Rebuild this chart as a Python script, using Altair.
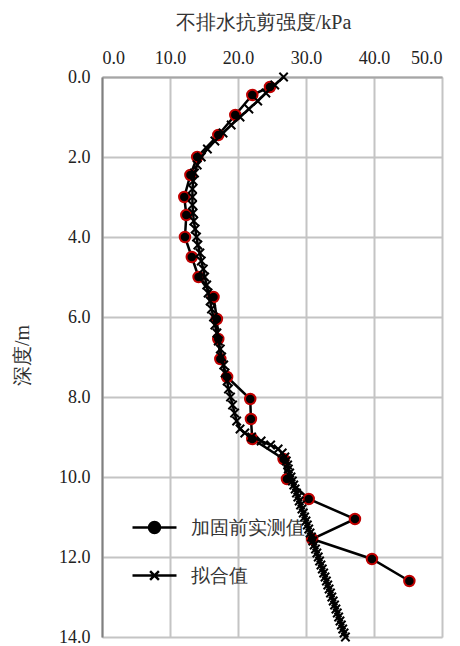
import altair as alt
import pandas as pd

# ---- data ----
meas_name = "加固前实测值"
fit_name = "拟合值"

depth_meas = [0.25, 0.45, 0.95, 1.45, 2.0, 2.45, 3.0, 3.45, 4.0, 4.5, 5.0, 5.5, 6.05,
              6.55, 7.05, 7.5, 8.05, 8.55, 9.05, 9.55, 10.05, 10.55, 11.05, 11.55, 12.05, 12.6]
su_meas = [24.7, 22.1, 19.6, 17.1, 14.0, 13.0, 12.1, 12.4, 12.2, 13.2, 14.2, 16.4, 16.9,
           17.1, 17.4, 18.4, 21.8, 21.9, 22.1, 26.7, 27.2, 30.4, 37.2, 30.9, 39.7, 45.2]

depth_fit_upper = [0.0, 0.2, 0.4, 0.6, 0.8, 1.0, 1.2, 1.4, 1.6, 1.8, 2.0, 2.2, 2.4, 2.6,
                   2.8, 3.0, 3.2, 3.4, 3.6, 3.8, 4.0, 4.2, 4.4, 4.6, 4.8, 5.0, 5.2, 5.4,
                   5.6, 5.8, 6.0, 6.2, 6.4, 6.6, 6.8, 7.0, 7.2, 7.4, 7.6, 7.8, 8.0, 8.2,
                   8.4, 8.6, 8.8]
su_fit_upper = [26.7, 25.4, 24.1, 22.9, 21.6, 20.3, 19.0, 17.8, 16.6, 15.5, 14.6, 14.0,
                13.6, 13.4, 13.3, 13.3, 13.3, 13.4, 13.5, 13.7, 13.9, 14.1, 14.4, 14.6,
                14.9, 15.1, 15.4, 15.6, 15.9, 16.1, 16.4, 16.6, 16.9, 17.1, 17.4, 17.6,
                17.9, 18.1, 18.4, 18.6, 18.9, 19.2, 19.5, 19.8, 20.3]

depth_fit_lower = [8.9, 9.0, 9.1, 9.2, 9.3, 9.4, 9.5, 9.6, 9.7, 9.8, 9.9, 10.0, 10.1,
                   10.2, 10.3, 10.4, 10.5, 10.6, 10.7, 10.8, 10.9, 11.0, 11.1, 11.2,
                   11.3, 11.4, 11.5, 11.6, 11.7, 11.8, 11.9, 12.0, 12.1, 12.2, 12.3,
                   12.4, 12.5, 12.6, 12.7, 12.8, 12.9, 13.0, 13.1, 13.2, 13.3, 13.4,
                   13.5, 13.6, 13.7, 13.8, 13.9, 14.0]
su_fit_lower = [21.0, 22.0, 23.4, 24.8, 25.9, 26.5, 26.9, 27.1, 27.3, 27.4, 27.6, 27.8,
                28.0, 28.2, 28.4, 28.6, 28.8, 29.0, 29.2, 29.4, 29.6, 29.8, 30.0, 30.2,
                30.4, 30.6, 30.8, 31.0, 31.2, 31.4, 31.6, 31.8, 32.0, 32.2, 32.4, 32.6,
                32.8, 33.0, 33.2, 33.4, 33.6, 33.8, 34.0, 34.2, 34.4, 34.6, 34.8, 35.0,
                35.2, 35.4, 35.6, 35.8]

x_ticks = [0, 10, 20, 30, 40, 50]
y_ticks = [0, 2, 4, 6, 8, 10, 12, 14]

# ---- tables ----
df_meas = pd.DataFrame({"depth": depth_meas, "su": su_meas, "series": meas_name})
df_fit = pd.DataFrame({"depth": depth_fit_upper + depth_fit_lower,
                       "su": su_fit_upper + su_fit_lower, "series": fit_name})
df_all = pd.concat([df_meas, df_fit], ignore_index=True)

FONT = "Liberation Serif"
series_domain = [meas_name, fit_name]
x_marker = "M-1,-1L1,1M-1,1L1,-1"
# legend symbols: line with the series marker in the middle
leg_meas_symbol = "M-4,0H4M-1,0A1,1 0 1,0 1,0A1,1 0 1,0 -1,0"
leg_fit_symbol = "M-4,0H4M-0.8,-0.8L0.8,0.8M-0.8,0.8L0.8,-0.8"

x_enc = alt.X("su:Q",
              scale=alt.Scale(domain=[0, 50], nice=False, zero=False),
              axis=alt.Axis(orient="top", values=x_ticks, format=".1f",
                            title="不排水抗剪强度/kPa", titleFontSize=20,
                            titleFontWeight="normal", titleFont=FONT, titleColor="#333333",
                            titleX=161, titleY=-55, titleBaseline="middle", titleAlign="center",
                            labelFont=FONT, labelFontSize=18, labelColor="#222222",
                            labelPadding=10, ticks=False,
                            domainColor="#a6a6a6", domainWidth=2,
                            gridColor="#c4c4c4", gridWidth=2))
y_enc = alt.Y("depth:Q",
              scale=alt.Scale(domain=[0, 14], reverse=True, nice=False, zero=False),
              axis=alt.Axis(values=y_ticks, format=".1f",
                            title="深度/m", titleFontSize=20, titleFontWeight="normal",
                            titleFont=FONT, titleColor="#333333",
                            titleX=-80, titleY=278, titleAlign="center", titleBaseline="middle",
                            labelFont=FONT, labelFontSize=18, labelColor="#222222",
                            labelPadding=12, ticks=False,
                            domainColor="#808080", domainWidth=2,
                            gridColor="#c4c4c4", gridWidth=2))

leg = alt.Legend(orient="none", legendX=43, legendY=441, title=None,
                 labelFont=FONT, labelFontSize=19, labelColor="#333333",
                 symbolSize=121, symbolStrokeWidth=2.5, symbolOpacity=1,
                 labelOffset=27, rowPadding=28, padding=0)

# invisible layer that only carries the legend
legend_carrier = alt.Chart(df_all).mark_point(filled=True, opacity=0).encode(
    x=x_enc, y=y_enc,
    shape=alt.Shape("series:N", scale=alt.Scale(domain=series_domain,
                                                range=[leg_meas_symbol, leg_fit_symbol]),
                    legend=leg),
    fill=alt.Fill("series:N", scale=alt.Scale(domain=series_domain,
                                              range=["black", "transparent"]),
                  legend=leg),
    stroke=alt.Stroke("series:N", scale=alt.Scale(domain=series_domain,
                                                  range=["black", "black"]),
                      legend=leg),
)

meas_line = alt.Chart(df_meas).mark_line(strokeWidth=2.5, color="black").encode(
    x=x_enc, y=y_enc, order=alt.Order("depth:Q"))
meas_pts = alt.Chart(df_meas).mark_point(
    shape="circle", filled=True, fill="black", stroke="#c00000",
    strokeWidth=2, size=110, opacity=1).encode(x=x_enc, y=y_enc)
fit_line = alt.Chart(df_fit).mark_line(strokeWidth=2.5, color="black").encode(
    x=x_enc, y=y_enc, order=alt.Order("depth:Q"))
fit_pts = alt.Chart(df_fit).mark_point(
    shape=x_marker, filled=False, stroke="black", strokeWidth=2, size=70,
    opacity=1).encode(x=x_enc, y=y_enc)

chart = alt.layer(legend_carrier, meas_line, meas_pts, fit_line, fit_pts).properties(
    width=340, height=560,
    autosize=alt.AutoSizeParams(type="none"),
    padding={"left": 102, "top": 77, "right": 18, "bottom": 9},
)

chart.save("out.html", embed_options={"renderer": "svg", "actions": False})
